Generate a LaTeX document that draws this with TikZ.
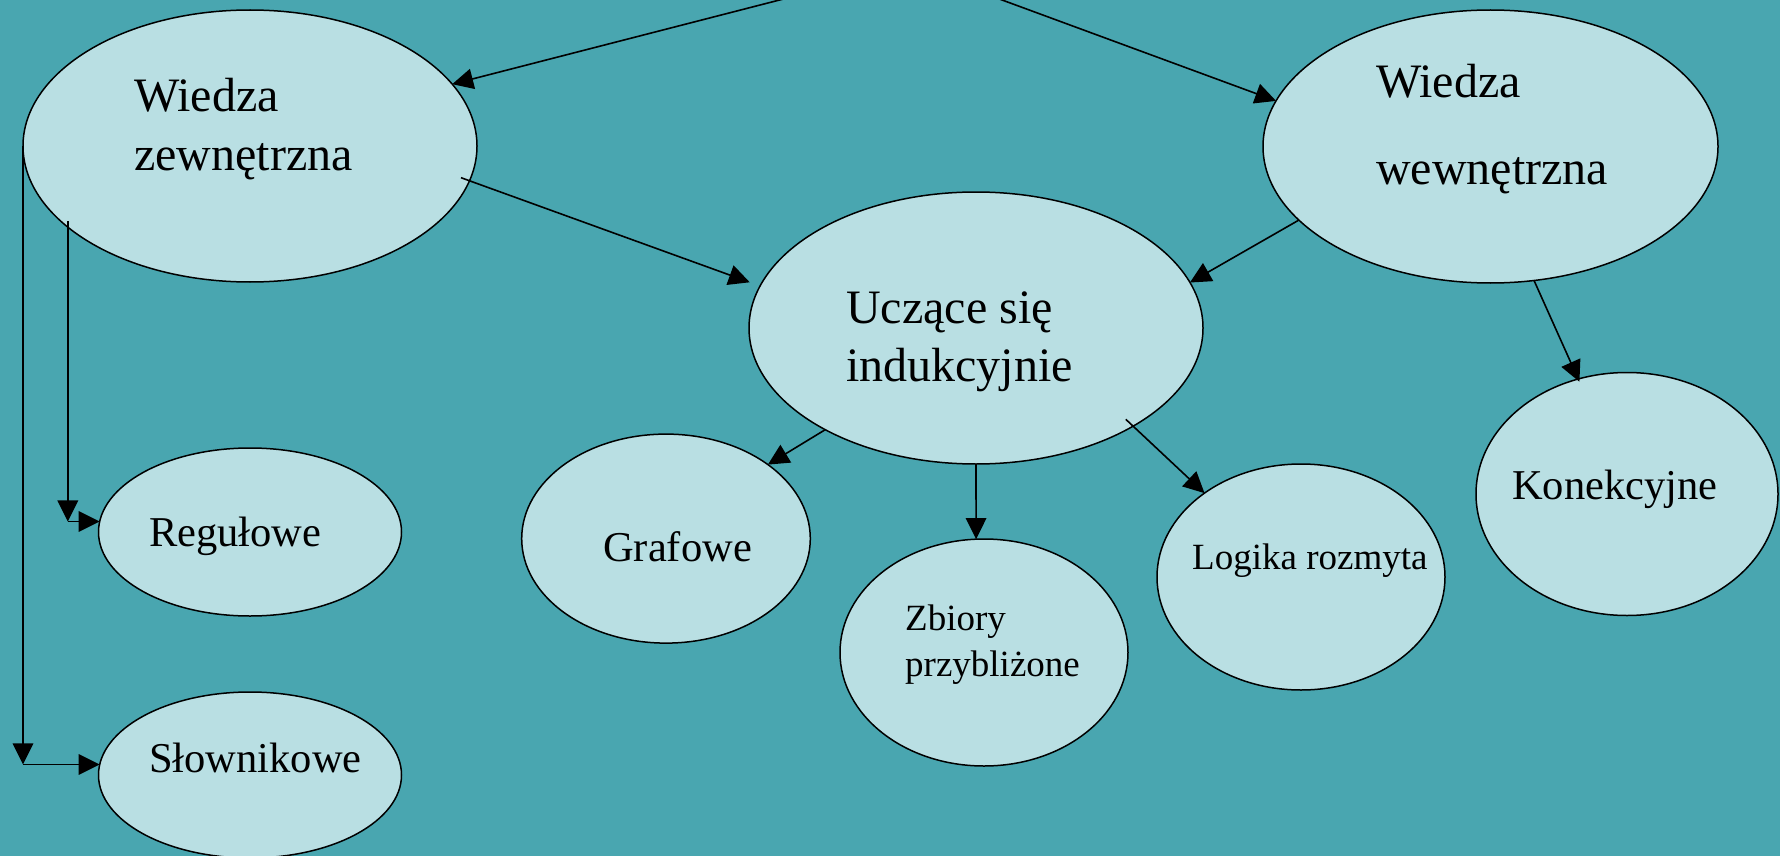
\documentclass[tikz,border=0pt]{standalone}
\usepackage{fontspec}
\setmainfont{Liberation Serif}
\usetikzlibrary{shapes.geometric,arrows.meta}
\definecolor{bgteal}{RGB}{73,166,176}
\definecolor{ellfill}{RGB}{185,223,227}
\begin{document}
\begin{tikzpicture}[x=1pt,y=-1pt,
  ell/.style={ellipse,draw=black,line width=1.5pt,fill=ellfill,inner sep=0pt,outer sep=0pt},
  conn/.style={draw=black,line width=1.6pt,-{Triangle[length=21pt,width=20.5pt]}},
  bigtxt/.style={anchor=base west,inner sep=0pt,font=\fontsize{48}{57}\selectfont},
  midtxt/.style={anchor=base west,inner sep=0pt,font=\fontsize{42.5}{50}\selectfont},
  smalltxt/.style={anchor=base west,inner sep=0pt,font=\fontsize{37}{44}\selectfont}]
\fill[bgteal] (0,0) rectangle (1780,856);
\useasboundingbox (0,0) rectangle (1780,856);

% ellipses
\node[ell,minimum width=454pt,minimum height=272pt] (zew) at (250,146) {};
\node[ell,minimum width=455pt,minimum height=273pt] (wew) at (1490.5,146.5) {};
\node[ell,minimum width=454pt,minimum height=272pt] (ucz) at (976,328) {};
\node[ell,minimum width=303pt,minimum height=168pt] (reg) at (250,532) {};
\node[ell,minimum width=303pt,minimum height=166pt] (slo) at (250,775) {};
\node[ell,minimum width=288.6pt,minimum height=209pt] (gra) at (666,538.6) {};
\node[ell,minimum width=288pt,minimum height=227pt] (zbi) at (984,652.5) {};
\node[ell,minimum width=288pt,minimum height=226pt] (log) at (1301,577) {};
\node[ell,minimum width=302pt,minimum height=243pt] (kon) at (1627,494) {};

% texts
\node[bigtxt] (zewA) at (134,112) {Wiedza};
\node[bigtxt] (zewB) at (134,170) {zewnętrzna};
\node[bigtxt] (wewA) at (1376,97.5) {Wiedza};
\node[bigtxt] (wewB) at (1376,184) {wewnętrzna};
\node[bigtxt] (uczA) at (846,323) {Uczące się};
\node[bigtxt] (uczB) at (846,381) {indukcyjnie};
\node[midtxt] (regT) at (149,546) {Regułowe};
\node[midtxt] (sloT) at (149,772) {Słownikowe};
\node[midtxt] (graT) at (603,561) {Grafowe};
\node[smalltxt] (zbiA) at (905,630) {Zbiory};
\node[smalltxt] (zbiB) at (905,676) {przybliżone};
\node[smalltxt] (logT) at (1192,569.5) {Logika rozmyta};
\node[midtxt] (konT) at (1512,499.5) {Konekcyjne};

% free ends at the top edge
\coordinate (topL) at (799,-5);
\coordinate (topR) at (988.5,-5);

% connectors
\draw[conn] (topL) -- (zew.17);
\draw[conn] (topR) -- (wew.168);
\draw[conn,shorten <=-9pt,shorten >=11pt] (zew.351.2) -- (ucz.169.5);
\draw[conn] (wew.201) -- (ucz.12);
\draw[conn,shorten >=-3pt] (wew.288.8) -- (kon.113.7);
\draw[conn] (ucz.214.7) -- (gra.36.6);
\draw[conn] (ucz.270) -- (zbi.94);
\draw[conn,shorten <=-10pt] (ucz.328.5) -- (log.139.8);

% elbow connectors
\coordinate (c1) at (zew.204.4 |- reg.176.8);
\draw[conn,shorten <=-6pt] (zew.204.4) -- (c1);
\draw[conn] (c1) -- (reg.176.8);
\coordinate (c2) at (zew.180 |- slo.176.6);
\draw[conn] (zew.180) -- (c2);
\draw[conn] (c2) -- (slo.176.6);
\end{tikzpicture}
\end{document}
